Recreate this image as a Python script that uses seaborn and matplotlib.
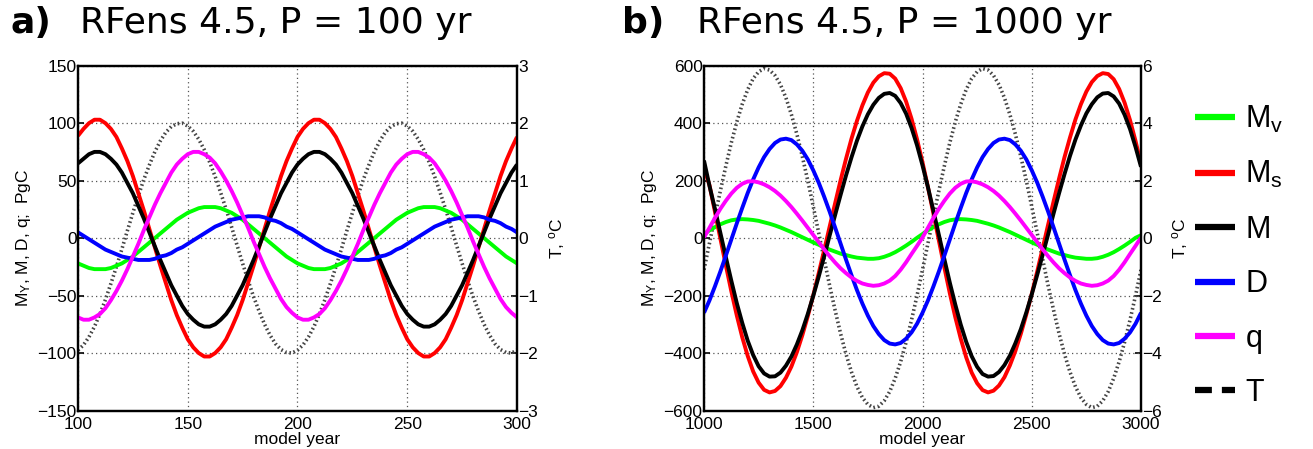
import numpy as np
import matplotlib
matplotlib.use("Agg")
import matplotlib.pyplot as plt
import seaborn as sns
from matplotlib.lines import Line2D

sns.set_style("white")
plt.rcParams['font.family'] = ['Liberation Sans', 'DejaVu Sans']
plt.rcParams['mathtext.fontset'] = 'custom'
plt.rcParams['mathtext.rm'] = 'Liberation Sans'
plt.rcParams['mathtext.it'] = 'Liberation Sans'
plt.rcParams['text.color'] = 'black'
plt.rcParams['axes.labelcolor'] = 'black'

# ---------------- data: panel a (P = 100 yr), every 2.5 years ----------------
years_a = np.arange(100, 302.5, 2.5)
Mv_a = [-22, -24, -26, -27, -27, -27, -26, -24, -22, -19, -16, -12, -8, -4, 0, 4, 8, 12, 16, 19,
        22, 24, 26, 27, 27, 27, 26, 24, 22, 19, 16, 12, 8, 4, 0, -4, -8, -12, -16, -19,
        -22, -24, -26, -27, -27, -27, -26, -24, -22, -19, -16, -12, -8, -4, 0, 4, 8, 12, 16, 19,
        22, 24, 26, 27, 27, 27, 26, 24, 22, 19, 16, 12, 8, 4, 0, -4, -8, -12, -16, -19, -22]
Ms_a = [89, 95, 100, 103, 103, 100, 95, 88, 78, 67, 54, 39, 24, 8, -8, -24, -39, -54, -67, -78,
        -88, -95, -100, -103, -103, -100, -95, -88, -78, -67, -54, -39, -24, -8, 8, 24, 39, 54, 67, 78,
        88, 95, 100, 103, 103, 100, 95, 88, 78, 67, 54, 39, 24, 8, -8, -24, -39, -54, -67, -78,
        -88, -95, -100, -103, -103, -100, -95, -88, -78, -67, -54, -39, -24, -8, 8, 24, 39, 54, 67, 78, 88]
M_a = [65, 69, 73, 75, 75, 73, 69, 64, 57, 48, 39, 28, 17, 5, -7, -19, -30, -41, -50, -59,
       -66, -71, -75, -77, -77, -75, -71, -66, -59, -50, -41, -30, -19, -7, 5, 17, 28, 39, 48, 57,
       64, 69, 73, 75, 75, 73, 69, 64, 57, 48, 39, 28, 17, 5, -7, -19, -30, -41, -50, -59,
       -66, -71, -75, -77, -77, -75, -71, -66, -59, -50, -41, -30, -19, -7, 5, 17, 28, 39, 48, 57, 64]
D_a = [5, 2, -1, -4, -7, -10, -12, -14, -16, -17, -18, -19, -19, -19, -18, -16, -15, -13, -10, -8,
       -5, -2, 1, 4, 7, 10, 12, 14, 16, 17, 18, 19, 19, 19, 18, 16, 15, 13, 10, 8,
       5, 2, -1, -4, -7, -10, -12, -14, -16, -17, -18, -19, -19, -19, -18, -16, -15, -13, -10, -8,
       -5, -2, 1, 4, 7, 10, 12, 14, 16, 17, 18, 19, 19, 19, 18, 16, 15, 13, 10, 8, 5]
q_a = [-69, -71, -71, -69, -66, -61, -54, -46, -37, -27, -16, -5, 7, 18, 29, 39, 48, 57, 64, 69,
       73, 75, 75, 73, 70, 65, 58, 50, 41, 31, 20, 9, -3, -14, -25, -35, -44, -53, -60, -65,
       -69, -71, -71, -69, -66, -61, -54, -46, -37, -27, -16, -5, 7, 18, 29, 39, 48, 57, 64, 69,
       73, 75, 75, 73, 70, 65, 58, 50, 41, 31, 20, 9, -3, -14, -25, -35, -44, -53, -60, -65, -69]
T_a = [-1.95, -1.86, -1.72, -1.54, -1.32, -1.07, -0.79, -0.50, -0.19, 0.13, 0.44, 0.74, 1.02, 1.27,
       1.50, 1.69, 1.84, 1.94, 1.99, 2.00, 1.95, 1.86, 1.72, 1.54, 1.32, 1.07, 0.79, 0.50, 0.19, -0.13,
       -0.44, -0.74, -1.02, -1.27, -1.50, -1.69, -1.84, -1.94, -1.99, -2.00,
       -1.95, -1.86, -1.72, -1.54, -1.32, -1.07, -0.79, -0.50, -0.19, 0.13, 0.44, 0.74, 1.02, 1.27,
       1.50, 1.69, 1.84, 1.94, 1.99, 2.00, 1.95, 1.86, 1.72, 1.54, 1.32, 1.07, 0.79, 0.50, 0.19, -0.13,
       -0.44, -0.74, -1.02, -1.27, -1.50, -1.69, -1.84, -1.94, -1.99, -2.00, -1.95]

# ---------------- data: panel b (P = 1000 yr), every 25 years ----------------
years_b = np.arange(1000, 3025, 25)
Mv_b = [14, 27, 38, 48, 56, 62, 65, 66, 65, 63, 60, 55, 50, 44, 37, 29, 21, 12, 3, -6,
        -15, -23, -32, -40, -47, -54, -59, -64, -68, -70, -72, -72, -70, -65, -58, -49, -38, -26, -13, 1,
        14, 27, 38, 48, 56, 62, 65, 66, 65, 63, 60, 55, 50, 44, 37, 29, 21, 12, 3, -6,
        -15, -23, -32, -40, -47, -54, -59, -64, -68, -70, -72, -72, -70, -65, -58, -49, -38, -26, -13, 1, 10]
Ms_b = [245, 184, 92, -2, -95, -185, -269, -345, -410, -464, -503, -528, -537, -532, -515, -486, -447,
        -397, -338, -272, -199, -122, -42, 40, 121, 201, 276, 346, 408, 462, 507, 541, 563, 574, 572,
        555, 522, 475, 415, 344, 264, 177, 85, -9, -102, -192, -275, -350, -415, -468, -505, -529,
        -537, -531, -513, -484, -443, -393, -333, -266, -194, -116, -35, 47, 128, 207, 282, 350, 413,
        466, 510, 543, 564, 574, 571, 553, 519, 471, 410, 338, 258]
M_b = [270, 182, 102, 18, -66, -148, -226, -295, -357, -407, -446, -471, -482, -481, -468, -444, -412,
       -370, -321, -264, -201, -134, -64, 9, 80, 150, 218, 281, 339, 389, 431, 464, 488, 502, 505,
       495, 470, 433, 383, 323, 253, 177, 95, 11, -73, -155, -231, -301, -361, -411, -448, -473,
       -482, -480, -466, -442, -409, -366, -317, -259, -196, -128, -58, 13, 86, 156, 223, 286, 343,
       392, 434, 466, 490, 503, 505, 493, 468, 429, 379, 317, 248]
D_b = [-260, -217, -168, -116, -61, -5, 51, 105, 157, 204, 246, 282, 310, 331, 343, 346, 341, 326, 304, 274,
       236, 193, 144, 92, 37, -19, -75, -129, -181, -228, -270, -306, -334, -355, -367, -370, -365, -350, -328, -298,
       -260, -217, -168, -116, -61, -5, 51, 105, 157, 204, 246, 282, 310, 331, 343, 346, 341, 326, 304, 274,
       236, 193, 144, 92, 37, -19, -75, -129, -181, -228, -270, -306, -334, -355, -367, -370, -365, -350, -328, -298,
       -260]
q_b = [2, 36, 70, 102, 130, 155, 175, 189, 197, 198, 194, 187, 177, 164, 148, 129, 108, 85, 61, 36,
       11, -14, -39, -63, -85, -105, -122, -137, -149, -158, -163, -166, -164, -158, -148, -132, -110, -84, -55, -27,
       2, 36, 70, 102, 130, 155, 175, 189, 197, 198, 194, 187, 177, 164, 148, 129, 108, 85, 61, 36,
       11, -14, -39, -63, -85, -105, -122, -137, -149, -158, -163, -166, -164, -158, -148, -132, -110, -84, -55, -27,
       2]
T_b = [-1.10, -0.18, 0.74, 1.65, 2.51, 3.32, 4.04, 4.66, 5.17, 5.55, 5.79, 5.90, 5.85, 5.66, 5.34, 4.88,
       4.30, 3.62, 2.84, 2.00, 1.10, 0.18, -0.74, -1.65, -2.51, -3.32, -4.04, -4.66, -5.17, -5.55, -5.79,
       -5.90, -5.85, -5.66, -5.34, -4.88, -4.30, -3.62, -2.84, -2.00,
       -1.10, -0.18, 0.74, 1.65, 2.51, 3.32, 4.04, 4.66, 5.17, 5.55, 5.79, 5.90, 5.85, 5.66, 5.34, 4.88,
       4.30, 3.62, 2.84, 2.00, 1.10, 0.18, -0.74, -1.65, -2.51, -3.32, -4.04, -4.66, -5.17, -5.55, -5.79,
       -5.90, -5.85, -5.66, -5.34, -4.88, -4.30, -3.62, -2.84, -2.00, -1.10]

series_names = [r"M$_\mathregular{v}$", r"M$_\mathregular{s}$", "M", "D", "q", "T"]
series_colors = ["#00ff00", "#ff0000", "#000000", "#0000ff", "#ff00ff", "#000000"]

W, H = 1313, 449
panels = [
    dict(x=years_a, ys=[Mv_a, Ms_a, M_a, D_a, q_a], T=T_a, xlim=(100, 300), xt=[100, 150, 200, 250, 300],
         ylim=(-150, 150), yt=np.arange(-150, 151, 50), tlim=(-3, 3), tt=np.arange(-3, 4, 1),
         letter="a)", title="RFens 4.5, P = 100 yr", lx=10, tx=80,
         rect=[78 / W, 0.0857, 439 / W, 0.768]),
    dict(x=years_b, ys=[Mv_b, Ms_b, M_b, D_b, q_b], T=T_b, xlim=(1000, 3000), xt=[1000, 1500, 2000, 2500, 3000],
         ylim=(-600, 600), yt=np.arange(-600, 601, 200), tlim=(-6, 6), tt=np.arange(-6, 7, 2),
         letter="b)", title="RFens 4.5, P = 1000 yr", lx=622, tx=697,
         rect=[704 / W, 0.0857, 437 / W, 0.768]),
]

fig = plt.figure(figsize=(W / 100, H / 100), dpi=100)


def fmt(v):
    return ("\u2212" + str(abs(int(v)))) if v < 0 else str(int(v))


for p in panels:
    ax = fig.add_axes(p["rect"])
    ax2 = ax.twinx()
    sns.lineplot(x=p["x"], y=p["T"], ax=ax2, color="#444444", lw=2.6,
                 linestyle=(0, (0.45, 0.75)), legend=False)
    ax.set_zorder(ax2.get_zorder() + 1)
    ax.patch.set_visible(False)
    for y, c in zip(p["ys"], series_colors[:5]):
        sns.lineplot(x=p["x"], y=y, ax=ax, color=c, lw=2.8, legend=False,
                     solid_joinstyle="round", solid_capstyle="butt")
    ax.set_xlim(*p["xlim"])
    ax.set_ylim(*p["ylim"])
    ax.set_xticks(p["xt"])
    ax.set_yticks(p["yt"])
    ax2.set_ylim(*p["tlim"])
    ax2.set_yticks(p["tt"])
    ax.set_yticklabels([fmt(v) for v in p["yt"]])
    ax2.set_yticklabels([fmt(v) for v in p["tt"]])
    ax.grid(True, which="major", axis="both", color="#555555", linestyle=(0, (1, 2.5)), lw=0.9)
    for a in (ax, ax2):
        a.tick_params(direction="in", length=4, width=1.2, labelsize=12.5, colors="black", pad=1)
        for s in a.spines.values():
            s.set_color("black")
            s.set_linewidth(1.6)
    ax.tick_params(axis="x", pad=5)
    ax.tick_params(top=False, right=False)
    ax.set_xlabel("model year", fontsize=12.5, labelpad=0)
    ax.set_ylabel(r"M$_\mathregular{Y}$, M, D, q;  PgC", fontsize=12.5, labelpad=3)
    ax2.set_ylabel(r"T, $^\mathregular{o}$C", fontsize=12.5, labelpad=6)
    ax2.grid(False)
    fig.text(p["lx"] / W, 0.926, p["letter"], fontsize=26, fontweight="bold", ha="left",
             va="baseline", family="DejaVu Sans", color="black")
    fig.text(p["tx"] / W, 0.926, p["title"], fontsize=26, ha="left", va="baseline",
             family="DejaVu Sans", color="black")

handles = [Line2D([], [], color=c, lw=4.5, solid_capstyle="butt") for c in series_colors[:5]]
handles.append(Line2D([], [], color="black", lw=4.5, linestyle=(0, (2.7, 1.6)), dash_capstyle="butt"))
fig.legend(handles, series_names, loc="center left", bbox_to_anchor=(1195 / W, 0.43), frameon=False,
           fontsize=22, handlelength=1.3, handletextpad=0.35, labelspacing=0.8, borderaxespad=0,
           borderpad=0)

fig.savefig("out.png", dpi=100)
